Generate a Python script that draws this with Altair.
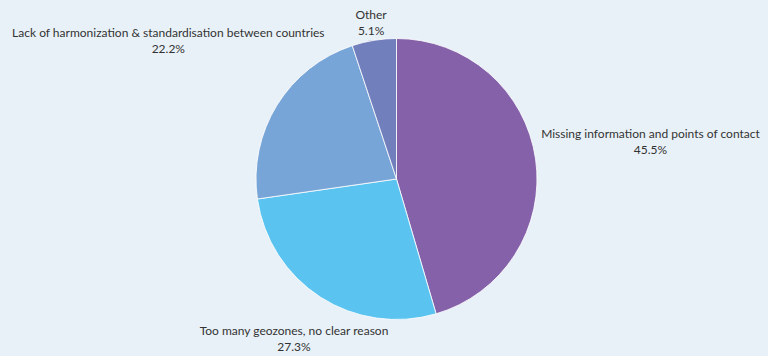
import altair as alt
import pandas as pd

categories = [
    "Missing information and points of contact",
    "Too many geozones, no clear reason",
    "Lack of harmonization & standardisation between countries",
    "Other",
]
values = [45.5, 27.3, 22.2, 5.1]
colors = ["#8461a8", "#5bc3f0", "#78a5d7", "#727fbd"]

df = pd.DataFrame({"category": categories, "value": values, "idx": list(range(len(categories)))})

base = alt.Chart(df).transform_calculate(
    label="datum.category + '\\n' + format(datum.value, '.1f') + '%'"
).encode(
    theta=alt.Theta("value:Q", stack=True),
    order=alt.Order("idx:Q", sort="ascending"),
)

arc = base.mark_arc(outerRadius=140.5, stroke="#ffffff", strokeWidth=1, strokeOpacity=0.8).encode(
    color=alt.Color("category:N", scale=alt.Scale(domain=categories, range=colors), legend=None)
)

# label offsets (style) per slice
offsets = [(105.5, -23.4), (-21.4, 26.1), (-100.6, -67.5), (-1.5, -16.3)]

layers = [arc]
for k, (dx, dy) in enumerate(offsets):
    t = base.transform_calculate(
        lab=f"datum.idx == {k} ? datum.label : ''"
    ).mark_text(
        radius=150, dx=dx, dy=dy, align="center", baseline="middle",
        lineBreak="\n", lineHeight=16, font="Lato", fontSize=12, color="#333333",
    ).encode(
        text="lab:N",
        detail="category:N",
    )
    layers.append(t)

chart = alt.layer(*layers).properties(
    width=743, height=354,
    padding={"left": 25, "top": 2, "right": 0, "bottom": 0},
    autosize=alt.AutoSizeParams(type="none"),
    background="#e9f1f8",
).configure_view(stroke=None)

chart.save("out.html", embed_options={"renderer": "svg", "actions": False})
